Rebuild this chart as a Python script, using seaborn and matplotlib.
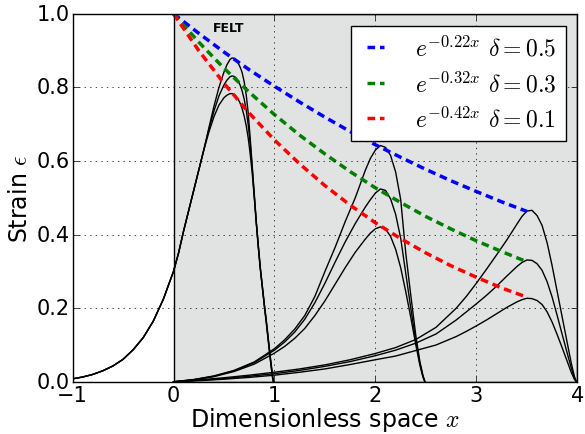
import matplotlib
matplotlib.use('Agg')
import matplotlib.pyplot as plt
import seaborn as sns

# pulse 1: initial profile (shared up to x = 0.3), then the three delta cases
p1_x_rise = [-1.0, -0.9, -0.8, -0.7, -0.6, -0.5, -0.4, -0.3, -0.2, -0.1, 0.0, 0.05, 0.1, 0.15, 0.2, 0.25, 0.3]
p1_y_rise = [0.008, 0.013, 0.02, 0.03, 0.043, 0.061, 0.087, 0.12, 0.165, 0.225, 0.30, 0.35, 0.41, 0.465, 0.52, 0.575, 0.63]
p1_x = [0.35, 0.4, 0.45, 0.5, 0.53, 0.56, 0.58, 0.6, 0.62, 0.64, 0.66, 0.68, 0.7, 0.72, 0.74, 0.76,
        0.78, 0.8, 0.82, 0.84, 0.86, 0.88, 0.9, 0.92, 0.94, 0.96, 0.98, 0.99]
p1_d05 = [0.69, 0.748, 0.80, 0.842, 0.862, 0.876, 0.88, 0.879, 0.874, 0.866, 0.855, 0.84, 0.815, 0.78,
          0.73, 0.66, 0.585, 0.51, 0.435, 0.37, 0.31, 0.26, 0.21, 0.165, 0.115, 0.065, 0.02, 0.0]
p1_d03 = [0.685, 0.735, 0.777, 0.807, 0.82, 0.829, 0.831, 0.83, 0.826, 0.818, 0.806, 0.79, 0.768, 0.738,
          0.698, 0.645, 0.578, 0.505, 0.432, 0.367, 0.307, 0.257, 0.207, 0.16, 0.11, 0.06, 0.015, 0.0]
p1_d01 = [0.678, 0.72, 0.752, 0.772, 0.779, 0.783, 0.783, 0.781, 0.776, 0.768, 0.757, 0.742, 0.722, 0.696,
          0.662, 0.618, 0.565, 0.50, 0.43, 0.365, 0.305, 0.255, 0.205, 0.157, 0.107, 0.057, 0.012, 0.0]

# pulse 2
p2_x = [0.0, 0.2, 0.4, 0.6, 0.8, 1.0, 1.1, 1.2, 1.3, 1.4, 1.5, 1.6, 1.7, 1.8, 1.9, 1.95, 2.0, 2.05,
        2.1, 2.15, 2.2, 2.25, 2.3, 2.35, 2.4, 2.44, 2.47, 2.49]
p2_d05 = [0.0, 0.006, 0.016, 0.031, 0.054, 0.09, 0.114, 0.143, 0.18, 0.232, 0.30, 0.365, 0.435, 0.50,
          0.575, 0.607, 0.63, 0.642, 0.637, 0.615, 0.57, 0.495, 0.35, 0.235, 0.125, 0.055, 0.018, 0.0]
p2_d03 = [0.0, 0.006, 0.015, 0.03, 0.052, 0.086, 0.108, 0.135, 0.17, 0.215, 0.268, 0.325, 0.38, 0.43,
          0.475, 0.495, 0.513, 0.524, 0.52, 0.497, 0.455, 0.39, 0.295, 0.20, 0.11, 0.05, 0.015, 0.0]
p2_d01 = [0.0, 0.005, 0.014, 0.028, 0.048, 0.078, 0.096, 0.118, 0.145, 0.18, 0.22, 0.265, 0.31, 0.352,
          0.388, 0.404, 0.416, 0.421, 0.415, 0.395, 0.36, 0.31, 0.245, 0.175, 0.10, 0.045, 0.013, 0.0]

# pulse 3
p3_x = [0.0, 0.25, 0.5, 0.75, 1.0, 1.25, 1.5, 1.75, 2.0, 2.2, 2.4, 2.6, 2.8, 2.9, 3.0, 3.1, 3.2, 3.3,
        3.4, 3.45, 3.5, 3.55, 3.6, 3.65, 3.7, 3.75, 3.8, 3.85, 3.9, 3.94, 3.97, 3.99]
p3_d05 = [0.0, 0.005, 0.011, 0.018, 0.026, 0.035, 0.046, 0.06, 0.077, 0.093, 0.115, 0.148, 0.20, 0.232,
          0.268, 0.306, 0.345, 0.385, 0.428, 0.449, 0.464, 0.466, 0.452, 0.425, 0.378, 0.315, 0.245, 0.175,
          0.105, 0.05, 0.015, 0.0]
p3_d03 = [0.0, 0.004, 0.009, 0.015, 0.022, 0.031, 0.042, 0.055, 0.071, 0.086, 0.105, 0.13, 0.168, 0.19,
          0.212, 0.235, 0.26, 0.287, 0.313, 0.324, 0.331, 0.33, 0.321, 0.303, 0.272, 0.23, 0.18, 0.128,
          0.077, 0.037, 0.01, 0.0]
p3_d01 = [0.0, 0.003, 0.007, 0.012, 0.018, 0.026, 0.035, 0.047, 0.06, 0.07, 0.085, 0.10, 0.123, 0.137,
          0.152, 0.168, 0.185, 0.202, 0.217, 0.223, 0.227, 0.226, 0.221, 0.21, 0.19, 0.162, 0.128, 0.092,
          0.055, 0.025, 0.007, 0.0]

# peak envelopes
env_x = [0.0, 0.25, 0.5, 0.75, 1.0, 1.25, 1.5, 1.75, 2.0, 2.25, 2.5, 2.75, 3.0, 3.25, 3.5]
env_022 = [1.0, 0.947, 0.896, 0.848, 0.803, 0.760, 0.719, 0.680, 0.644, 0.610, 0.577, 0.546, 0.517, 0.489, 0.463]
env_032 = [1.0, 0.923, 0.852, 0.787, 0.726, 0.670, 0.619, 0.571, 0.527, 0.487, 0.449, 0.415, 0.383, 0.354, 0.326]
env_042 = [1.0, 0.900, 0.811, 0.730, 0.657, 0.592, 0.533, 0.480, 0.432, 0.389, 0.350, 0.315, 0.284, 0.255, 0.230]
env_labels = [r'$e^{-0.22x}$ $\delta=0.5$', r'$e^{-0.32x}$ $\delta=0.3$', r'$e^{-0.42x}$ $\delta=0.1$']
env_colors = ['b', 'g', 'r']

plt.style.use('classic')
plt.rcParams['mathtext.fontset'] = 'cm'
plt.rcParams['savefig.facecolor'] = 'white'

fig, ax = plt.subplots(figsize=(5.85, 4.35), dpi=100)
fig.patch.set_facecolor('white')
fig.subplots_adjust(left=0.124, right=0.987, bottom=0.12, top=0.966)

# felt region
ax.axvspan(0, 4, facecolor='#e1e2e2', edgecolor='k', lw=1, zorder=0)

# strain pulses
for ys in [p1_d05, p1_d03, p1_d01]:
    sns.lineplot(x=p1_x_rise + p1_x, y=p1_y_rise + ys, ax=ax, color='k', lw=1)
for ys in [p2_d05, p2_d03, p2_d01]:
    sns.lineplot(x=p2_x, y=ys, ax=ax, color='k', lw=1)
for ys in [p3_d05, p3_d03, p3_d01]:
    sns.lineplot(x=p3_x, y=ys, ax=ax, color='k', lw=1)

# exponential envelopes
for ys, c, lab in zip([env_022, env_032, env_042], env_colors, env_labels):
    sns.lineplot(x=env_x, y=ys, ax=ax, color=c, lw=2.5, linestyle=(0, (5.5, 3.5)), label=lab)

ax.text(0.55, 0.963, 'FELT', fontsize=9, fontweight='bold', ha='center', va='center')

ax.set_xlim(-1, 4)
ax.set_ylim(0, 1)
ax.set_xticks([-1, 0, 1, 2, 3, 4])
ax.set_yticks([0.0, 0.2, 0.4, 0.6, 0.8, 1.0])
ax.tick_params(labelsize=15, pad=2)
ax.grid(True)
ax.set_xlabel(r'Dimensionless space $x$', fontsize=17, labelpad=0)
ax.set_ylabel(r'Strain $\epsilon$', fontsize=17, labelpad=3)

handles, labels = ax.get_legend_handles_labels()
ax.legend(handles, labels, loc='upper right', fontsize=17, handlelength=1.3,
          handletextpad=1.0, labelspacing=0.45, borderpad=0.4)

fig.savefig('out.png', dpi=100)
